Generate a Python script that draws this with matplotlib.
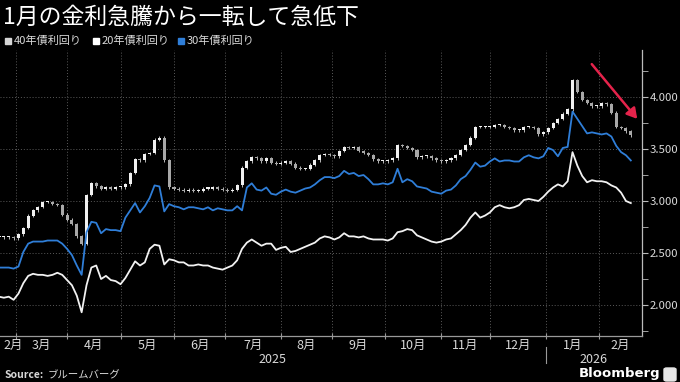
import numpy as np
import pandas as pd
import matplotlib
matplotlib.use('Agg')
import matplotlib.pyplot as plt
from matplotlib.patches import Rectangle, FancyBboxPatch
from matplotlib.lines import Line2D

plt.rcParams['font.family'] = ['Noto Sans CJK JP', 'DejaVu Sans']

# ---------------- data ----------------
title = '1月の金利急騰から一転して急低下'
legend_names = ['40年債利回り', '20年債利回り', '30年債利回り']
start_date = '2025-02-20'   # first sample (business days, every 2nd business day)
sample_step = 2

y20 = [2.08, 2.07, 2.08, 2.05, 2.11, 2.21, 2.28, 2.30, 2.29, 2.29,
       2.28, 2.29, 2.31, 2.29, 2.24, 2.19, 2.09, 1.93, 2.19, 2.36,
       2.38, 2.25, 2.28, 2.24, 2.23, 2.20, 2.26, 2.34, 2.42, 2.38,
       2.41, 2.54, 2.58, 2.57, 2.39, 2.44, 2.43, 2.41, 2.41, 2.38,
       2.38, 2.39, 2.38, 2.38, 2.36, 2.35, 2.34, 2.36, 2.38, 2.43,
       2.54, 2.60, 2.63, 2.60, 2.57, 2.59, 2.59, 2.53, 2.55, 2.56,
       2.51, 2.52, 2.54, 2.56, 2.58, 2.60, 2.64, 2.66, 2.65, 2.63,
       2.65, 2.69, 2.66, 2.66, 2.65, 2.66, 2.64, 2.63, 2.63, 2.63,
       2.62, 2.64, 2.70, 2.71, 2.73, 2.72, 2.67, 2.65, 2.63, 2.61,
       2.60, 2.61, 2.63, 2.64, 2.68, 2.72, 2.77, 2.84, 2.89, 2.84,
       2.86, 2.89, 2.94, 2.96, 2.94, 2.93, 2.94, 2.96, 3.01, 3.02,
       3.01, 3.00, 3.04, 3.09, 3.13, 3.16, 3.14, 3.19, 3.47, 3.34,
       3.24, 3.18, 3.20, 3.19, 3.19, 3.18, 3.15, 3.13, 3.08, 3.00,
       2.98]

y30 = [2.36, 2.36, 2.36, 2.35, 2.37, 2.51, 2.59, 2.61, 2.61, 2.61,
       2.62, 2.62, 2.62, 2.59, 2.54, 2.48, 2.38, 2.29, 2.70, 2.80,
       2.79, 2.69, 2.73, 2.72, 2.72, 2.71, 2.84, 2.91, 2.98, 2.89,
       2.95, 3.03, 3.15, 3.14, 2.90, 2.97, 2.95, 2.94, 2.92, 2.94,
       2.94, 2.93, 2.92, 2.94, 2.91, 2.93, 2.92, 2.91, 2.91, 2.95,
       2.91, 3.13, 3.17, 3.11, 3.10, 3.13, 3.07, 3.06, 3.09, 3.11,
       3.09, 3.08, 3.10, 3.12, 3.13, 3.16, 3.20, 3.23, 3.23, 3.22,
       3.24, 3.29, 3.26, 3.27, 3.24, 3.25, 3.21, 3.16, 3.16, 3.17,
       3.16, 3.18, 3.31, 3.18, 3.21, 3.19, 3.14, 3.13, 3.12, 3.09,
       3.08, 3.07, 3.10, 3.11, 3.15, 3.21, 3.24, 3.30, 3.37, 3.33,
       3.34, 3.38, 3.41, 3.38, 3.39, 3.39, 3.38, 3.38, 3.42, 3.44,
       3.42, 3.41, 3.43, 3.51, 3.49, 3.43, 3.51, 3.52, 3.86, 3.79,
       3.72, 3.65, 3.66, 3.65, 3.64, 3.65, 3.62, 3.53, 3.47, 3.44,
       3.39]

y40_close = [2.65, 2.65, 2.65, 2.64, 2.68, 2.74, 2.86, 2.91, 2.94, 2.99,
             2.99, 2.97, 2.96, 2.87, 2.82, 2.78, 2.66, 2.59, 3.06, 3.17,
             3.14, 3.12, 3.13, 3.12, 3.13, 3.13, 3.16, 3.27, 3.40, 3.39,
             3.45, 3.46, 3.59, 3.61, 3.39, 3.13, 3.12, 3.11, 3.10, 3.11,
             3.10, 3.10, 3.12, 3.12, 3.13, 3.12, 3.11, 3.10, 3.11, 3.15,
             3.32, 3.38, 3.42, 3.41, 3.38, 3.41, 3.37, 3.36, 3.37, 3.38,
             3.36, 3.32, 3.31, 3.31, 3.35, 3.39, 3.44, 3.45, 3.44, 3.43,
             3.48, 3.52, 3.51, 3.52, 3.48, 3.46, 3.44, 3.40, 3.38, 3.38,
             3.39, 3.41, 3.54, 3.53, 3.51, 3.49, 3.42, 3.43, 3.43, 3.41,
             3.39, 3.38, 3.39, 3.41, 3.44, 3.49, 3.54, 3.61, 3.71, 3.71,
             3.71, 3.71, 3.73, 3.73, 3.71, 3.70, 3.68, 3.68, 3.71, 3.71,
             3.70, 3.64, 3.66, 3.70, 3.75, 3.79, 3.84, 3.88, 4.16, 4.05,
             3.97, 3.94, 3.91, 3.91, 3.94, 3.93, 3.85, 3.71, 3.70, 3.67,
             3.63]

month_labels = ['2月', '3月', '4月', '5月', '6月', '7月', '8月', '9月',
                '10月', '11月', '12月', '1月', '2月']
year_labels = ['2025', '2026']
y_ticks = [2.0, 2.5, 3.0, 3.5, 4.0]

# ---------------- style ----------------
BG = '#000000'
C_WHITE = '#f2f2f2'
C_BLUE = '#2f7ed8'
C_CANDLE = '#d6d6d6'
C_GRID = '#5a5a5a'
C_TEXT = '#d9d9d9'

W, H = 680, 382
fig = plt.figure(figsize=(W / 100, H / 100), dpi=100, facecolor=BG)
ax = fig.add_axes([0.0, 1 - 336 / H, 642 / W, (336 - 50) / H])
ax.set_facecolor(BG)

n = len(y20)
x = np.arange(n) * sample_step
n_days = 266
bdays = pd.bdate_range(start_date, periods=n_days)
x_left, x_right = 0.4, 264.6
ax.set_xlim(x_left, x_right)
ax.set_ylim(1.702, 4.452)

# month boundaries
bounds = [i for i in range(1, n_days) if bdays[i].month != bdays[i - 1].month]
bounds = [b for b in bounds if b < x_right]

# grid
for yt in y_ticks:
    ax.axhline(yt, color=C_GRID, lw=0.7, ls=(0, (1, 2)), zorder=0)
for b in bounds:
    ax.axvline(b, color=C_GRID, lw=0.7, ls=(0, (1, 2)), zorder=0)

# 40y candles (open = previous close)
closes = np.array(y40_close)
opens = np.concatenate([[closes[0]], closes[:-1]])
lo = np.minimum(opens, closes)
hi = np.maximum(opens, closes)
height = np.maximum(hi - lo, 0.01)
ax.vlines(x, lo - 0.012, hi + 0.012, color=C_CANDLE, lw=0.6, zorder=2)
up = closes >= opens
ax.bar(x[up], height[up], bottom=lo[up], width=1.25, color='#f0f0f0',
       edgecolor='none', zorder=3)
ax.bar(x[~up], height[~up], bottom=lo[~up], width=1.25, color='#a8a8a8',
       edgecolor='none', zorder=3)

# lines
ax.plot(x, y30, color=C_BLUE, lw=1.3, zorder=4)
ax.plot(x, y20, color=C_WHITE, lw=1.3, zorder=4)

# axes styling
for s in ['top', 'left']:
    ax.spines[s].set_visible(False)
ax.spines['right'].set_color('#bbbbbb')
ax.spines['bottom'].set_color('#999999')
ax.spines['right'].set_linewidth(0.9)
ax.spines['bottom'].set_linewidth(0.9)
ax.yaxis.tick_right()
ax.set_yticks(y_ticks)
ax.set_yticklabels([f'{v:.3f}' for v in y_ticks])
ax.set_yticks(np.arange(1.75, 4.46, 0.25), minor=True)
ax.tick_params(axis='y', which='both', direction='out', length=4, color='#bbbbbb',
               labelcolor=C_TEXT, labelsize=8.2, pad=1.5)
ax.set_xticks(bounds)
ax.set_xticklabels([])
ax.tick_params(axis='x', direction='inout', length=4, color='#999999')
ax.tick_params(axis='x', which='minor', length=0)

# month labels
segs = [x_left] + bounds + [x_right]
for i, lab in enumerate(month_labels):
    c = (segs[i] + segs[i + 1]) / 2
    if i == 0:
        c = max(c, 5.8)
    ax.text(c, -0.01, lab, transform=ax.get_xaxis_transform(), ha='center',
            va='top', color=C_TEXT, fontsize=9)

# year labels
xt = ax.get_xaxis_transform()
jan = [b for b in bounds if bdays[b].month == 1][0]
ax.text((x_left + jan) / 2, -0.058, year_labels[0], transform=xt,
        ha='center', va='top', color=C_TEXT, fontsize=9)
ax.text((jan + x_right) / 2, -0.058, year_labels[1], transform=xt,
        ha='center', va='top', color=C_TEXT, fontsize=9)
ax.add_line(Line2D([jan, jan], [-0.04, -0.095], transform=xt,
                   color='#999999', lw=0.8, clip_on=False))

# title
fig.text(3 / W, 1 - 17 / H, title, color='white', fontsize=16.5, ha='left', va='center')

# legend
leg_x = [5, 93, 178]
leg_c = [C_CANDLE, '#ffffff', C_BLUE]
for lx, lc, name in zip(leg_x, leg_c, legend_names):
    fig.patches.append(Rectangle((lx / W, 1 - 44 / H), 6 / W, 6 / H,
                                 transform=fig.transFigure, color=lc))
    fig.text((lx + 9) / W, 1 - 41 / H, name, color=C_TEXT, fontsize=8,
             ha='left', va='center')

# source
fig.text(5 / W, 1 - 375 / H, 'Source:', color=C_TEXT, fontsize=7.5,
         fontweight='bold', ha='left', va='center')
fig.text(48 / W, 1 - 375 / H, 'ブルームバーグ', color=C_TEXT, fontsize=7.5,
         ha='left', va='center')
fig.text(660 / W, 1 - 374 / H, 'Bloomberg', color='white', fontsize=9.5,
         fontweight='bold', ha='right', va='center', family='DejaVu Sans')
fig.patches.append(FancyBboxPatch((664 / W, 1 - 381 / H), 12 / W, 13 / H,
                                  boxstyle='round,pad=0,rounding_size=0.004',
                                  transform=fig.transFigure, color='#e6e6e6'))

# red arrow
fig.patches.append(matplotlib.patches.FancyArrowPatch(
    (590 / W, 1 - 62 / H), (639 / W, 1 - 121 / H), transform=fig.transFigure,
    arrowstyle='-|>,head_length=6,head_width=3.5', color='#e5234b', lw=1.8))

fig.savefig('out.png', dpi=100, facecolor=BG)
